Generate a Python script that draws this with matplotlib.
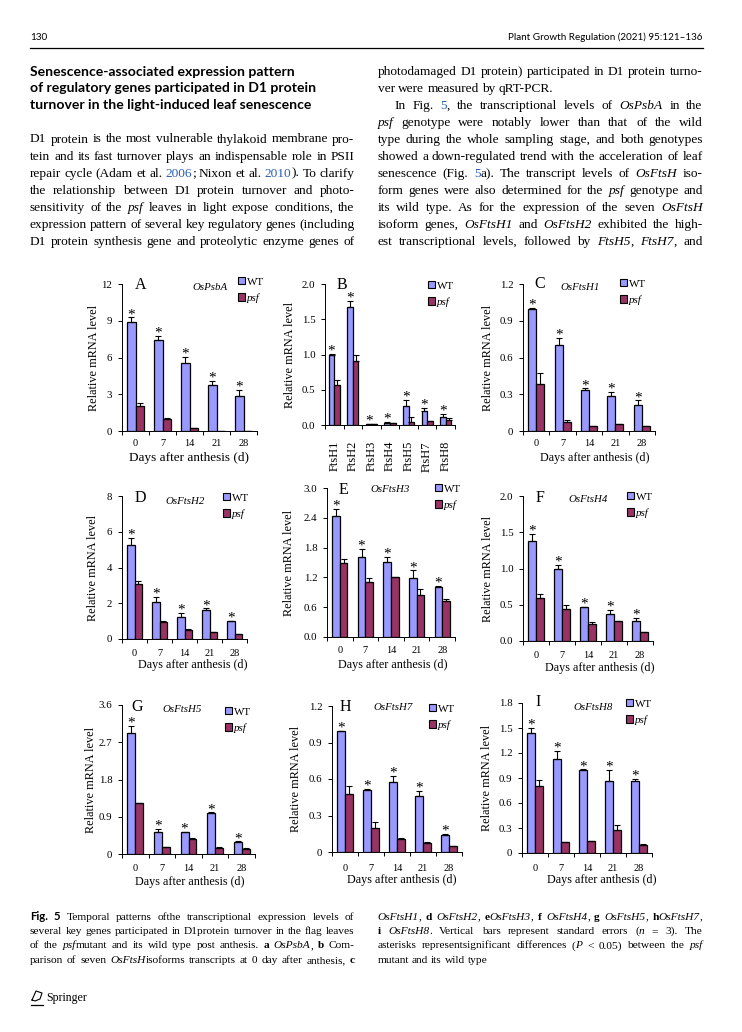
import re
import numpy as np
import matplotlib
matplotlib.use('Agg')
import matplotlib.pyplot as plt
from matplotlib.patches import Patch
from matplotlib.lines import Line2D

plt.rcParams['font.family'] = 'serif'
plt.rcParams['font.serif'] = ['Liberation Serif', 'DejaVu Serif']

W, H = 742, 1032
WT_C = '#9999FF'
PSF_C = '#993366'
LINK_C = '#2a5db0'

# ---------------- data ----------------
days = ['0', '7', '14', '21', '28']
isoforms = ['FtsH1', 'FtsH2', 'FtsH3', 'FtsH4', 'FtsH5', 'FtsH7', 'FtsH8']

psba_wt = [8.86, 7.39, 5.59, 3.74, 2.84]
psba_wt_se = [0.41, 0.35, 0.49, 0.32, 0.54]
psba_psf = [2.02, 1.00, 0.25, 0.03, 0.03]
psba_psf_se = [0.30, 0.03, 0.02, 0.0, 0.0]

iso_wt = [1.0, 1.67, 0.01, 0.035, 0.264, 0.20, 0.12]
iso_wt_se = [0.01, 0.09, 0.0, 0.005, 0.09, 0.045, 0.04]
iso_psf = [0.57, 0.906, 0.01, 0.025, 0.047, 0.05, 0.075]
iso_psf_se = [0.07, 0.085, 0.0, 0.003, 0.07, 0.005, 0.025]

h1_wt = [1.0, 0.70, 0.338, 0.289, 0.215]
h1_wt_se = [0.003, 0.06, 0.01, 0.03, 0.035]
h1_psf = [0.38, 0.076, 0.04, 0.055, 0.04]
h1_psf_se = [0.09, 0.01, 0.003, 0.003, 0.003]

h2_wt = [5.25, 2.08, 1.21, 1.60, 1.0]
h2_wt_se = [0.42, 0.25, 0.26, 0.11, 0.02]
h2_psf = [3.05, 0.97, 0.52, 0.37, 0.26]
h2_psf_se = [0.22, 0.06, 0.02, 0.02, 0.02]

h3_wt = [2.44, 1.61, 1.51, 1.18, 1.01]
h3_wt_se = [0.14, 0.16, 0.11, 0.16, 0.01]
h3_psf = [1.48, 1.11, 1.20, 0.85, 0.73]
h3_psf_se = [0.09, 0.08, 0.01, 0.12, 0.04]

h4_wt = [1.38, 1.0, 0.47, 0.377, 0.276]
h4_wt_se = [0.10, 0.05, 0.005, 0.055, 0.04]
h4_psf = [0.593, 0.446, 0.234, 0.276, 0.12]
h4_psf_se = [0.05, 0.045, 0.025, 0.005, 0.005]

h5_wt = [2.93, 0.523, 0.53, 1.0, 0.30]
h5_wt_se = [0.16, 0.08, 0.01, 0.005, 0.005]
h5_psf = [1.23, 0.16, 0.354, 0.15, 0.13]
h5_psf_se = [0.01, 0.01, 0.03, 0.01, 0.01]

h7_wt = [0.995, 0.51, 0.573, 0.464, 0.136]
h7_wt_se = [0.003, 0.01, 0.05, 0.035, 0.01]
h7_psf = [0.475, 0.196, 0.109, 0.07, 0.046]
h7_psf_se = [0.065, 0.05, 0.01, 0.01, 0.003]

h8_wt = [1.446, 1.125, 1.0, 0.868, 0.864]
h8_wt_se = [0.056, 0.095, 0.003, 0.125, 0.03]
h8_psf = [0.80, 0.13, 0.145, 0.277, 0.10]
h8_psf_se = [0.08, 0.005, 0.005, 0.065, 0.005]

yt_a = ['0', '3', '6', '9', '12']
yt_b = ['0.0', '0.5', '1.0', '1.5', '2.0']
yt_c = ['0', '0.3', '0.6', '0.9', '1.2']
yt_d = ['0', '2', '4', '6', '8']
yt_e = ['0.0', '0.6', '1.2', '1.8', '2.4', '3.0']
yt_f = ['0.0', '0.5', '1.0', '1.5', '2.0']
yt_g = ['0', '0.9', '1.8', '2.7', '3.6']
yt_h = ['0', '0.3', '0.6', '0.9', '1.2']
yt_i = ['0', '0.3', '0.6', '0.9', '1.2', '1.5', '1.8']

panels = [
    ('A', 'OsPsbA', days, psba_wt, psba_wt_se, psba_psf, psba_psf_se, yt_a),
    ('B', None, isoforms, iso_wt, iso_wt_se, iso_psf, iso_psf_se, yt_b),
    ('C', 'OsFtsH1', days, h1_wt, h1_wt_se, h1_psf, h1_psf_se, yt_c),
    ('D', 'OsFtsH2', days, h2_wt, h2_wt_se, h2_psf, h2_psf_se, yt_d),
    ('E', 'OsFtsH3', days, h3_wt, h3_wt_se, h3_psf, h3_psf_se, yt_e),
    ('F', 'OsFtsH4', days, h4_wt, h4_wt_se, h4_psf, h4_psf_se, yt_f),
    ('G', 'OsFtsH5', days, h5_wt, h5_wt_se, h5_psf, h5_psf_se, yt_g),
    ('H', 'OsFtsH7', days, h7_wt, h7_wt_se, h7_psf, h7_psf_se, yt_h),
    ('I', 'OsFtsH8', days, h8_wt, h8_wt_se, h8_psf, h8_psf_se, yt_i),
]

# ---------------- layout (pixels) ----------------
# axes box: x left, x right, y top, y bottom
box = {'A': (122, 257, 284, 431), 'B': (325, 455, 284, 425), 'C': (523, 655, 284, 431),
       'D': (122, 247, 496, 639), 'E': (327, 455, 488, 637), 'F': (523, 653, 496, 641),
       'G': (122, 255, 705, 854), 'H': (332, 462, 706, 852), 'I': (522, 652, 703, 853)}
letter_at = {'A': (141, 285), 'B': (342, 285), 'C': (540, 284), 'D': (140, 498), 'E': (343, 490),
             'F': (540, 498), 'G': (137, 707), 'H': (345, 707), 'I': (538, 702)}
gene_at = {'A': (210, 287), 'C': (580, 287), 'D': (185, 502), 'E': (390, 490), 'F': (588, 500),
           'G': (182, 709), 'H': (393, 708), 'I': (593, 707)}
legend_at = {'A': (238, 283), 'B': (428, 287), 'C': (620, 285), 'D': (223, 499), 'E': (435, 490),
             'F': (627, 498), 'G': (225, 713), 'H': (429, 710), 'I': (626, 705)}
ylabel_x = {'A': 94, 'B': 290, 'C': 488, 'D': 93, 'E': 289, 'F': 488, 'G': 91, 'H': 296, 'I': 487}
xlabel_at = {'A': (189, 458), 'C': (595, 458), 'D': (193, 665), 'E': (393, 665), 'F': (600, 668),
             'G': (190, 882), 'H': (402, 880), 'I': (602, 880)}
xtick_y = {'A': 445, 'B': 442, 'C': 445, 'D': 655, 'E': 652, 'F': 657, 'G': 870, 'H': 870, 'I': 870}


def fx(x):
    return x / W


def fy(y):
    return 1 - y / H


fig = plt.figure(figsize=(W / 100, H / 100), dpi=100)
renderer = fig.canvas.get_renderer()

bw = 0.3
for key, gene, cats, wt, wt_se, psf, psf_se, ytl in panels:
    x0, x1, yt, yb = box[key]
    ax = fig.add_axes([fx(x0), fy(yb), (x1 - x0) / W, (yb - yt) / H])
    n = len(cats)
    x = np.arange(n)
    wt = np.array(wt)
    psf = np.array(psf)
    ax.bar(x - bw / 2, wt, bw, color=WT_C, edgecolor='k', linewidth=0.9, zorder=2)
    ax.bar(x + bw / 2, psf, bw, color=PSF_C, edgecolor='k', linewidth=0.9, zorder=2)
    ax.errorbar(x - bw / 2, wt, yerr=[np.zeros(n), wt_se], fmt='none', ecolor='k',
                elinewidth=0.8, capsize=2, capthick=0.8, zorder=3)
    ax.errorbar(x + bw / 2, psf, yerr=[np.zeros(n), psf_se], fmt='none', ecolor='k',
                elinewidth=0.8, capsize=2, capthick=0.8, zorder=3)
    for xi, top in zip(x - bw / 2, wt + np.array(wt_se)):
        ax.annotate('*', (xi, top), xytext=(0, -0.5), textcoords='offset points',
                    ha='center', va='baseline', fontsize=11)

    yticks = [float(t) for t in ytl]
    ax.set_ylim(0, yticks[-1])
    ax.set_yticks(yticks)
    ax.set_yticklabels(ytl, fontsize=7.8)
    ax.set_xlim(-0.5, n - 0.5)
    ax.set_xticks(np.arange(n + 1) - 0.5)
    ax.set_xticklabels([])
    ax.set_xticks(x, minor=True)
    rot = 90 if key == 'B' else 0
    ax.set_xticklabels(cats, minor=True, rotation=rot, fontsize=9 if key == 'B' else 7.5)
    ax.tick_params(axis='x', which='major', direction='out', length=3, width=0.7)
    ax.tick_params(axis='y', which='major', direction='out', length=3, width=0.7, pad=4)
    if key == 'B':
        pad = (xtick_y[key] - yb - 1) * 0.72
    else:
        pad = (xtick_y[key] - yb - 5.8) * 0.72
    ax.tick_params(axis='x', which='minor', length=0, pad=pad)
    for s in ['top', 'right']:
        ax.spines[s].set_visible(False)
    for s in ['left', 'bottom']:
        ax.spines[s].set_linewidth(0.7)
    ax.patch.set_alpha(0)

    ax.set_ylabel('Relative mRNA level', fontsize=8.8, va='center')
    ax.yaxis.set_label_coords(fx(ylabel_x[key]), fy((yt + yb) / 2), transform=fig.transFigure)
    if key in xlabel_at:
        lx, ly = xlabel_at[key]
        ax.set_xlabel('Days after anthesis (d)', fontsize=9.5 if key == 'A' else 8.7, va='center')
        ax.xaxis.set_label_coords(fx(lx), fy(ly), transform=fig.transFigure)

    lx, ly = letter_at[key]
    fig.text(fx(lx), fy(ly), key, fontsize=11.5, ha='center', va='center')
    if gene:
        gx, gy = gene_at[key]
        fig.text(fx(gx), fy(gy), gene, fontsize=7.8, style='italic', ha='center', va='center')

    handles = [Patch(facecolor=WT_C, edgecolor='k', linewidth=0.8, label='WT'),
               Patch(facecolor=PSF_C, edgecolor='k', linewidth=0.8, label='psf')]
    sx, sy = legend_at[key]
    leg = ax.legend(handles=handles, loc='upper left', bbox_to_anchor=(fx(sx), fy(sy - 6)),
                    bbox_transform=fig.transFigure, frameon=False, fontsize=7.9,
                    handlelength=0.65, handleheight=0.65, handletextpad=0.15,
                    labelspacing=0.6, borderpad=0, borderaxespad=0)
    leg.get_texts()[1].set_style('italic')

# ---------------- page text ----------------
STYLES = {
    'n': dict(family='Liberation Serif'),
    'i': dict(family='Liberation Serif', style='italic'),
    'b': dict(family='Liberation Serif', weight='bold'),
    'l': dict(family='Liberation Serif', color=LINK_C),
    's': dict(family='Lato', weight='bold'),
}
TOKEN = re.compile(r'(\*[^*]+\*|\[[^\]]+\]|#[^#]+#|%[^%]+%)')
MARK = {'*': 'i', '[': 'l', '#': 'b', '%': 's'}


def segments(word):
    out = []
    for part in TOKEN.split(word):
        if not part:
            continue
        if part[0] in MARK and len(part) > 2:
            out.append((part[1:-1], MARK[part[0]]))
        else:
            out.append((part, 'n'))
    return out


def put_line(line, x0, x1, y, size, justify=True):
    groups = []
    for w in line.split():
        items = []
        for s, st in segments(w):
            t = fig.text(0, 0, s, fontsize=size, va='baseline', ha='left', **STYLES[st])
            items.append((t, t.get_window_extent(renderer).width))
        groups.append(items)
    widths = [sum(w for _, w in g) for g in groups]
    gap = size * 100 / 72 * 0.25
    if justify and len(groups) > 1:
        gap = max((x1 - x0 - sum(widths)) / (len(groups) - 1), 1.5)
    x = x0
    for g, gw in zip(groups, widths):
        for t, w in g:
            t.set_position((fx(x), fy(y)))
            x += w
        x += gap


# header
fig.text(fx(30), fy(39.5), '130', family='Lato', fontsize=7.2, va='baseline')
fig.text(fx(702.7), fy(39.5), 'Plant Growth Regulation (2021) 95:121\u2013136', family='Lato',
         fontsize=7.1, va='baseline', ha='right')
fig.add_artist(Line2D([fx(30), fx(702.7)], [fy(48.3), fy(48.3)], color='k', linewidth=0.9))

heading = ['Senescence-associated expression pattern',
           'of regulatory genes participated in D1 protein',
           'turnover in the light-induced leaf senescence']
for i, line in enumerate(heading):
    fig.text(fx(30), fy(75.7 + 16.65 * i), line, family='Lato', weight='bold', fontsize=10.05,
             va='baseline')

body_left = [
    'D1 protein is the most vulnerable thylakoid membrane pro-',
    'tein and its fast turnover plays an indispensable role in PSII',
    'repair cycle (Adam et al. [2006]; Nixon et al. [2010]). To clarify',
    'the relationship between D1 protein turnover and photo-',
    'sensitivity of the *psf* leaves in light expose conditions, the',
    'expression pattern of several key regulatory genes (including',
    'D1 protein synthesis gene and proteolytic enzyme genes of',
]
body_right = [
    'photodamaged D1 protein) participated in D1 protein turno-',
    'ver were measured by qRT-PCR.',
    'In Fig. [5], the transcriptional levels of *OsPsbA* in the',
    '*psf* genotype were notably lower than that of the wild',
    'type during the whole sampling stage, and both genotypes',
    'showed a down-regulated trend with the acceleration of leaf',
    'senescence (Fig. [5]a). The transcript levels of *OsFtsH* iso-',
    'form genes were also determined for the *psf* genotype and',
    'its wild type. As for the expression of the seven *OsFtsH*',
    'isoform genes, *OsFtsH1* and *OsFtsH2* exhibited the high-',
    'est transcriptional levels, followed by *FtsH5*, *FtsH7*, and',
]
for i, line in enumerate(body_left):
    put_line(line, 30, 354.5, 142.5 + 17.1 * i, 9.6)
for i, line in enumerate(body_right):
    indent = 17 if i == 2 else 0
    put_line(line, 377.7 + indent, 702.7, 75.2 + 16.95 * i, 9.6, justify=(i != 1))

caption_left = [
    '%Fig.% %5% Temporal patterns ofthe transcriptional expression levels of',
    'several key genes participated in D1protein turnover in the flag leaves',
    'of the *psf*mutant and its wild type post anthesis. #a# *OsPsbA*, #b# Com-',
    'parison of seven *OsFtsH*isoforms transcripts at 0 day after anthesis, #c#',
]
caption_right = [
    '*OsFtsH1*, #d# *OsFtsH2*, #e#*OsFtsH3*, #f# *OsFtsH4*, #g# *OsFtsH5*, #h#*OsFtsH7*,',
    '#i# *OsFtsH8*. Vertical bars represent standard errors (*n* = 3). The',
    'asterisks representsignificant differences (*P* < 0.05) between the *psf*',
    'mutant and its wild type',
]
for i, line in enumerate(caption_left):
    put_line(line, 30, 354.5, 919.7 + 14.4 * i, 8.2)
for i, line in enumerate(caption_right):
    put_line(line, 377.7, 702.7, 919.7 + 14.4 * i, 8.2, justify=(i != 3))

# footer
fig.add_artist(Line2D([fx(32), fx(36), fx(42), fx(40), fx(35), fx(32)],
                      [fy(1000), fy(991), fy(993), fy(999), fy(1001), fy(1000)],
                      color='k', linewidth=0.8))
fig.add_artist(Line2D([fx(31), fx(43)], [fy(1004.5), fy(1004.5)], color='k', linewidth=0.9))
fig.text(fx(46.7), fy(1001.5), 'Springer', fontsize=8.6, va='baseline')

fig.savefig('out.png', dpi=100)
